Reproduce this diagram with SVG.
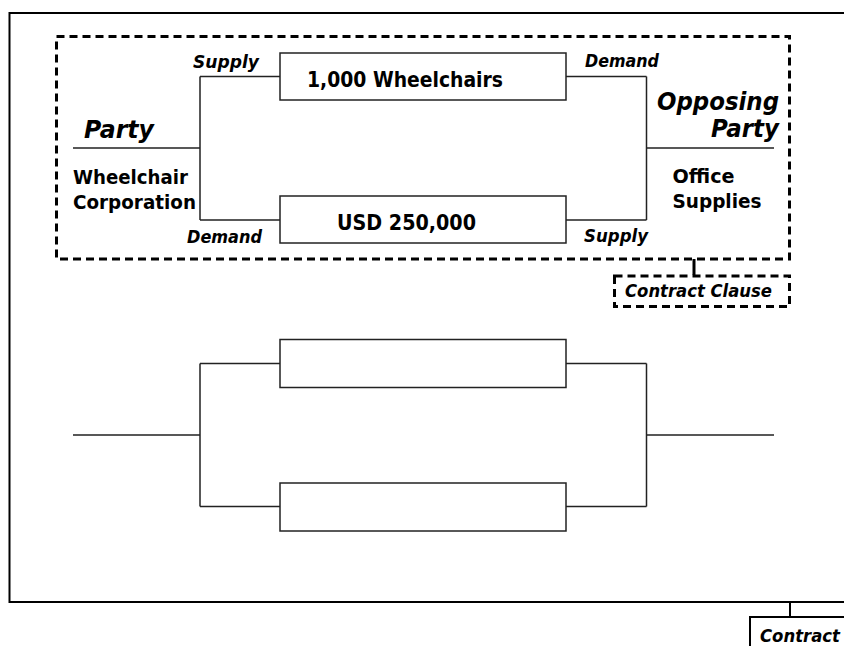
<svg xmlns="http://www.w3.org/2000/svg" width="844" height="646" viewBox="0 0 844 646">
<style>
.frame{fill:none;stroke:#000;stroke-width:2}
.dash{fill:none;stroke:#000;stroke-width:3;stroke-dasharray:8 5}
.box{fill:#fff;stroke:#222;stroke-width:1.5}
.ln{fill:none;stroke:#222;stroke-width:1.5}
.t{font-family:"DejaVu Sans",Verdana,sans-serif;font-weight:bold;fill:#000}
.i{font-family:"DejaVu Sans",Verdana,sans-serif;font-weight:bold;font-style:italic;fill:#000}
</style>
<rect width="844" height="646" fill="#fff"/>
<g id="contract-frame">
<path class="frame" d="M846 13 H9.5 V602 H846"/>
</g>
<g id="contract-clause-frame">
<rect class="dash" x="56.5" y="36.5" width="733" height="222.5"/>
</g>
<g id="connectors">
<path class="ln" d="M73 148 H200 M200 76.5 V220 M200 76.5 H280 M200 220 H280"/>
<path class="ln" d="M566 76.5 H646.5 M566 220 H646.5 M646.5 76.5 V220 M646.5 148 H774"/>
<path class="ln" d="M73 435 H200 M200 363.5 V506.5 M200 363.5 H280 M200 506.5 H280"/>
<path class="ln" d="M566 363.5 H646.5 M566 506.5 H646.5 M646.5 363.5 V506.5 M646.5 435 H774"/>
<path fill="none" stroke="#000" stroke-width="3" d="M694 259 V275"/>
<path fill="none" stroke="#000" stroke-width="2" d="M790 602 V617"/>
</g>
<g id="wheelchairs">
<rect class="box" x="280" y="53" width="286" height="47"/>
<text class="t" x="307" y="87" font-size="21" textLength="196" lengthAdjust="spacingAndGlyphs">1,000 Wheelchairs</text>
</g>
<g id="usd">
<rect class="box" x="280" y="196" width="286" height="47"/>
<text class="t" x="337" y="229.5" font-size="21" textLength="139" lengthAdjust="spacingAndGlyphs">USD 250,000</text>
</g>
<g id="box3"><rect class="box" x="280" y="339.5" width="286" height="48"/></g>
<g id="box4"><rect class="box" x="280" y="483" width="286" height="48"/></g>
<g id="labels">
<text class="i" x="193" y="68" font-size="17" textLength="66" lengthAdjust="spacingAndGlyphs">Supply</text>
<text class="i" x="585" y="67" font-size="17" textLength="74" lengthAdjust="spacingAndGlyphs">Demand</text>
<text class="i" x="187" y="243" font-size="17" textLength="75" lengthAdjust="spacingAndGlyphs">Demand</text>
<text class="i" x="584" y="242" font-size="17" textLength="64" lengthAdjust="spacingAndGlyphs">Supply</text>
</g>
<g id="party">
<text class="i" x="84" y="137.5" font-size="24" textLength="70" lengthAdjust="spacingAndGlyphs">Party</text>
<text class="t" x="73" y="183.5" font-size="20" textLength="115" lengthAdjust="spacingAndGlyphs">Wheelchair</text>
<text class="t" x="73" y="208.5" font-size="20" textLength="123" lengthAdjust="spacingAndGlyphs">Corporation</text>
</g>
<g id="opposing-party">
<text class="i" x="657" y="110" font-size="24" textLength="122" lengthAdjust="spacingAndGlyphs">Opposing</text>
<text class="i" x="711" y="137" font-size="24" textLength="68" lengthAdjust="spacingAndGlyphs">Party</text>
<text class="t" x="672.5" y="183" font-size="20" textLength="62" lengthAdjust="spacingAndGlyphs">Office</text>
<text class="t" x="672.5" y="208" font-size="20" textLength="89" lengthAdjust="spacingAndGlyphs">Supplies</text>
</g>
<g id="contract-clause">
<rect class="dash" x="614.5" y="276" width="175" height="30.5"/>
<text class="i" x="625" y="297" font-size="17.5" textLength="147" lengthAdjust="spacingAndGlyphs">Contract Clause</text>
</g>
<g id="contract">
<path class="frame" d="M750 648 V617 H846"/>
<text class="i" x="760" y="641.5" font-size="17.5" textLength="80" lengthAdjust="spacingAndGlyphs">Contract</text>
</g>
</svg>
